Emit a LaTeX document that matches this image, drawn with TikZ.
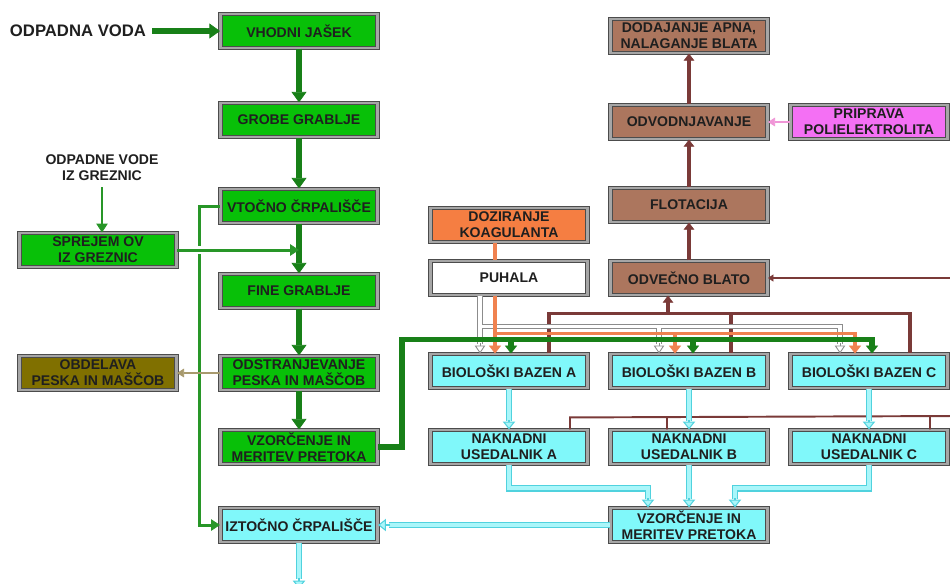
\documentclass[tikz,border=0pt]{standalone}
\usepackage{fontspec}
\setmainfont{Liberation Sans}
\usetikzlibrary{arrows.meta,calc}

\definecolor{plantgreen}{RGB}{8,192,8}
\definecolor{flowgreen}{RGB}{24,128,24}
\definecolor{bypassgreen}{RGB}{40,150,40}
\definecolor{sandolive}{RGB}{128,112,0}
\definecolor{sandline}{RGB}{168,154,110}
\definecolor{dosorange}{RGB}{245,126,66}
\definecolor{coagline}{RGB}{240,130,80}
\definecolor{sludgebrown}{RGB}{172,118,94}
\definecolor{sludgeline}{RGB}{122,58,56}
\definecolor{polypink}{RGB}{244,112,244}
\definecolor{polyline}{RGB}{240,150,215}
\definecolor{clearcyan}{RGB}{128,248,250}
\definecolor{pipecyan}{RGB}{80,210,222}
\definecolor{pipelight}{RGB}{170,246,250}

\begin{document}
\begin{tikzpicture}[x=0.02cm,y=-0.02cm,
  box/.style={draw=black!70,double=black!35,double distance=1.2pt,line width=0.65pt,minimum width=3.14cm,minimum height=0.68cm,inner sep=1pt,align=center,text=black!88,font=\bfseries\fontsize{8}{9}\selectfont},
  label/.style={align=center,text=black!88,font=\bfseries\fontsize{8}{9}\selectfont},
  mainflow/.style={draw=flowgreen,line width=3.2pt,-{Triangle[width=8.5pt,length=6pt,line width=0.4pt]}},
  feedflow/.style={draw=flowgreen,line width=3pt,-{Triangle[width=7pt,length=4.5pt,line width=0.4pt]}},
  sideflow/.style={draw=bypassgreen,line width=1.7pt,-{Triangle[width=6.5pt,length=5pt,line width=0.4pt]}},
  sandflow/.style={draw=sandline,line width=1.3pt,-{Triangle[width=5pt,length=4pt,line width=0.4pt]}},
  polyflow/.style={draw=polyline,line width=1.3pt,-{Triangle[width=5pt,length=4pt,line width=0.4pt]}},
  sludgeup/.style={draw=sludgeline,line width=2.4pt,-{Triangle[width=6pt,length=4pt,line width=0.4pt]}},
  sludge/.style={draw=sludgeline,line width=2pt},
  thinsludge/.style={draw=sludgeline,line width=1.1pt},
  coag/.style={draw=coagline,line width=2pt},
  coagflow/.style={draw=coagline,line width=2pt,-{Triangle[width=7pt,length=4.5pt,line width=0.4pt]}},
  airpipe/.style={draw=black!45,double=white,double distance=2pt,line width=0.5pt},
  airtip/.style={draw=black!45,line width=0.5pt,-{Triangle[width=6pt,length=4.5pt,fill=white]}},
  clearpipe/.style={draw=pipecyan,double=pipelight,double distance=2.3pt,line width=0.6pt},
  cleartip/.style={draw=pipecyan,line width=0.6pt,-{Triangle[width=7pt,length=4.5pt,fill=pipelight]}}]

\useasboundingbox[fill=white] (0,0) rectangle (950,583);

% inflow line
\node[label,font=\bfseries\fontsize{9.5}{11}\selectfont] (dotok) at (78,31) {ODPADNA VODA};
\node[box,fill=plantgreen] (vhodni) at (299,31) {VHODNI JAŠEK};
\node[box,fill=plantgreen] (grobe) at (299,120) {GROBE GRABLJE};
\node[box,fill=plantgreen] (vtocno) at (299,206) {VTOČNO ČRPALIŠČE};
\node[box,fill=plantgreen] (fine) at (299,291) {FINE GRABLJE};
\node[box,fill=plantgreen] (pesek) at (299,373) {ODSTRANJEVANJE\\PESKA IN MAŠČOB};
\node[box,fill=plantgreen] (merA) at (299,447) {VZORČENJE IN\\MERITEV PRETOKA};
\node[box,fill=clearcyan] (iztocno) at (299,525) {IZTOČNO ČRPALIŠČE};
\node[label] (greznice) at (102,168) {ODPADNE VODE\\IZ GREZNIC};
\node[box,fill=plantgreen] (sprejem) at (98,250) {SPREJEM OV\\IZ GREZNIC};
\node[box,fill=sandolive] (obdelava) at (98,373) {OBDELAVA\\PESKA IN MAŠČOB};

% biology and sludge
\node[box,fill=dosorange] (doz) at (509,225) {DOZIRANJE\\KOAGULANTA};
\node[box,fill=white] (puhala) at (509,278) {PUHALA};
\node[box,fill=sludgebrown] (apno) at (689,36) {DODAJANJE APNA,\\NALAGANJE BLATA};
\node[box,fill=sludgebrown] (odvod) at (689,122) {ODVODNJAVANJE};
\node[box,fill=polypink] (poli) at (869,122) {PRIPRAVA\\POLIELEKTROLITA};
\node[box,fill=sludgebrown] (flot) at (689,205) {FLOTACIJA};
\node[box,fill=sludgebrown] (odvec) at (689,278) {ODVEČNO BLATO};
\node[box,fill=clearcyan] (bazA) at (509,371) {BIOLOŠKI BAZEN A};
\node[box,fill=clearcyan] (bazB) at (689,371) {BIOLOŠKI BAZEN B};
\node[box,fill=clearcyan] (bazC) at (869,371) {BIOLOŠKI BAZEN C};
\node[box,fill=clearcyan] (usA) at (509,447) {NAKNADNI\\USEDALNIK A};
\node[box,fill=clearcyan] (usB) at (689,447) {NAKNADNI\\USEDALNIK B};
\node[box,fill=clearcyan] (usC) at (869,447) {NAKNADNI\\USEDALNIK C};
\node[box,fill=clearcyan] (merB) at (689,525) {VZORČENJE IN\\MERITEV PRETOKA};

% pipe points above the basins
\coordinate (sA) at ($(bazA.north)+(40,-40)$);
\coordinate (sB) at ($(bazB.north)+(42,-40)$);
\coordinate (sC) at ($(bazC.north)+(41,-40)$);
\coordinate (sOut) at ($(odvec.south)+(-21,0)$);
\coordinate (airA) at ($(bazA.north)+(-29,-27)$);
\coordinate (airB) at ($(bazB.north)+(-30,-27)$);
\coordinate (airC) at ($(bazC.north)+(-29,-27)$);
\coordinate (oA) at ($(bazA.north)+(-14,-20)$);
\coordinate (oB) at ($(bazB.north)+(-14,-20)$);
\coordinate (oC) at ($(bazC.north)+(-14,-20)$);
\coordinate (gA) at ($(bazA.north)+(2,-14)$);
\coordinate (gB) at ($(bazB.north)+(4,-14)$);
\coordinate (gC) at ($(bazC.north)+(3,-14)$);
\coordinate (rA) at ($(usA.north)+(61,-12)$);
\coordinate (rB) at ($(usB.north)+(-22,-12)$);
\coordinate (rC) at ($(usC.north)+(61,-12)$);
\coordinate (rOut) at (955,416);
\coordinate (sekIn) at (955,278);
\coordinate (inA) at ($(merB.north)+(-41,0)$);
\coordinate (inC) at ($(merB.north)+(46,0)$);
\coordinate (izpust) at ($(iztocno.south)+(0,46)$);

% mechanical stage
\draw[mainflow] (dotok) -- (vhodni);
\draw[mainflow] (vhodni) -- (grobe);
\draw[mainflow] (grobe) -- (vtocno);
\draw[mainflow] (vtocno) -- (fine);
\draw[mainflow] (fine) -- (pesek);
\draw[mainflow] (pesek) -- (merA);
\draw[sideflow] (vtocno.west) -- ++(-20,0) |- (iztocno.west);
\draw[white,line width=4pt] ($(sprejem.east)+(4,0)$) -- ++(24,0);
\draw[sideflow] (sprejem.east) -- (sprejem.east -| vtocno.south);
\draw[sideflow] (greznice.south) -- (greznice.south |- sprejem.north);
\draw[sandflow] (pesek) -- (obdelava);

% sludge line
\draw[sludgeup] (odvec) -- (flot);
\draw[sludgeup] (flot) -- (odvod);
\draw[sludgeup] (odvod) -- (apno);
\draw[polyflow] (poli) -- (odvod);
\draw[thinsludge,-{Triangle[width=4pt,length=3pt,line width=0.3pt]}] (sekIn) -- (odvec.east);
\draw[sludge] (sA |- bazA.north) -- (sA) -- (sC) -- (sC |- bazC.north);
\draw[sludge] (sB) -- (sB |- bazB.north);
\draw[sludge,-{Triangle[width=6pt,length=4pt,line width=0.3pt]}] (sOut |- sA) -- (sOut);
\draw[thinsludge] (rA |- usA.north) -- (rA) -- (rOut) (rB) -- (rB |- usB.north) (rC) -- (rC |- usC.north);

% air from the blowers
\draw[airpipe] (airA |- puhala.south) -- ($(airA)+(0,18)$) (airA) -- (airC) -- ($(airC)+(0,18)$) (airB) -- ($(airB)+(0,18)$);
\draw[airtip] ($(airA)+(0,17)$) -- (airA |- bazA.north);
\draw[airtip] ($(airB)+(0,17)$) -- (airB |- bazB.north);
\draw[airtip] ($(airC)+(0,17)$) -- (airC |- bazC.north);

% coagulant dosing
\draw[coag] (oA |- doz.south) -- (oA |- puhala.north);
\draw[coagflow] (oA |- puhala.south) -- (oA |- bazA.north);
\draw[coagflow] (oA) -- (oC) -- (oC |- bazC.north);
\draw[coagflow] (oB) -- (oB |- bazB.north);

% feed to the basins
\draw[feedflow] (merA.east) -- ++(24,0) |- (gC) -- (gC |- bazC.north);
\draw[feedflow] (gA) -- (gA |- bazA.north);
\draw[feedflow] (gB) -- (gB |- bazB.north);

% clear water
\draw[clearpipe] (bazA) -- ($(usA.north)+(0,-8)$);
\draw[cleartip] ($(usA.north)+(0,-9)$) -- (usA.north);
\draw[clearpipe] (bazB) -- ($(usB.north)+(0,-8)$);
\draw[cleartip] ($(usB.north)+(0,-9)$) -- (usB.north);
\draw[clearpipe] (bazC) -- ($(usC.north)+(0,-8)$);
\draw[cleartip] ($(usC.north)+(0,-9)$) -- (usC.north);
\draw[clearpipe] (usA.south) |- ($(inA)+(0,-19)$) -- ($(inA)+(0,-8)$);
\draw[cleartip] ($(inA)+(0,-9)$) -- (inA);
\draw[clearpipe] (usB.south) -- ($(merB.north)+(0,-8)$);
\draw[cleartip] ($(merB.north)+(0,-9)$) -- (merB.north);
\draw[clearpipe] (usC.south) |- ($(inC)+(0,-19)$) -- ($(inC)+(0,-8)$);
\draw[cleartip] ($(inC)+(0,-9)$) -- (inC);
\draw[clearpipe] (merB.west) -- ($(iztocno.east)+(11,0)$);
\draw[cleartip] ($(iztocno.east)+(12,0)$) -- (iztocno.east);
\draw[clearpipe] (iztocno.south) -- ($(izpust)+(0,-10)$);
\draw[cleartip] ($(izpust)+(0,-11)$) -- (izpust);
\end{tikzpicture}
\end{document}
